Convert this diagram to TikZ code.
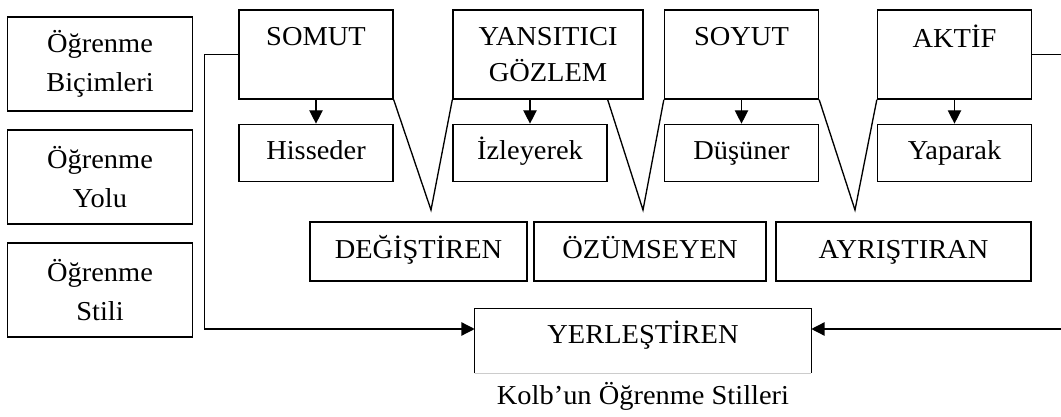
\documentclass[tikz,border=0pt]{standalone}
\usepackage{fontspec}
\setmainfont{Liberation Serif}[FakeStretch=1.04]
\usetikzlibrary{positioning,arrows.meta}

\begin{document}
\begin{tikzpicture}[
    x=0.75pt, y=-0.75pt,
    font=\fontsize{20.5}{27.5}\selectfont,
    box/.style={draw, line width=1pt, align=center, inner sep=0pt},
    sidebox/.style={box, minimum width=138.75pt, minimum height=70.5pt, font=\fontsize{20.5}{29}\selectfont},
    headbox/.style={box, minimum width=115.5pt, minimum height=66.75pt},
    subbox/.style={box, minimum width=115.5pt, minimum height=42.75pt, text height=14pt, text depth=4pt},
    typebox/.style={box, minimum height=44.25pt, text height=14pt, text depth=4pt},
    arr/.style={-{Triangle[length=10pt,width=10pt]}, line width=1pt},
    vee/.style={line width=1pt},
    node distance=18pt,
]
\useasboundingbox (0,0) rectangle (1061,417);

% sol sutun
\node[sidebox] (bicim) at (100,64) {Öğrenme\\Biçimleri};
\node[sidebox] (yol) at (100,177) {Öğrenme\\Yolu};
\node[sidebox] (stil) at (100,290) {Öğrenme\\Stili};

% ust sira
\node[headbox] (somut) at (316,54.5) {SOMUT\\\mbox{}};
\node[headbox, minimum width=142.5pt] (yansit) at (548,54.5) {YANSITICI\\GÖZLEM};
\node[headbox] (soyut) at (741.5,54.5) {SOYUT\\\mbox{}};
\node[headbox] (aktif) at (954.5,54.5) {AKTİF\\\mbox{}};

\node[subbox, below=of somut.south west, anchor=north west] (hisseder) {Hisseder};
\node[subbox, below=of yansit.south west, anchor=north west] (izle) {İzleyerek};
\node[subbox, below=of soyut.south west, anchor=north west] (dusun) {Düşüner};
\node[subbox, below=of aktif.south west, anchor=north west] (yapar) {Yaparak};

% stiller
\node[typebox, minimum width=162.75pt] (degis) at (418.5,251.5) {DEĞİŞTİREN};
\node[typebox, minimum width=174pt] (ozum) at (650,251.5) {ÖZÜMSEYEN};
\node[typebox, minimum width=191.25pt] (ayris) at (903.5,251.5) {AYRIŞTIRAN};

\node[minimum width=252pt, minimum height=48pt, inner sep=0pt, text height=14pt, text depth=11pt] (yer) at (643,341) {YERLEŞTİREN};
\draw[line width=1pt] (yer.south west) -- (yer.north west) -- (yer.north east) -- (yer.south east);
\draw[gray!40, line width=0.6pt] (yer.south west) -- (yer.south east);

\node (baslik) at (643,396) {Kolb’un Öğrenme Stilleri};

\draw[arr] (hisseder.north |- somut.south) -- (hisseder.north);
\draw[arr] (izle.north |- yansit.south) -- (izle.north);
\draw[arr] (dusun.north |- soyut.south) -- (dusun.north);
\draw[arr] (yapar.north |- aktif.south) -- (yapar.north);

\coordinate (v1) at (431,210);
\coordinate (v2) at (643,210);
\coordinate (v3) at (855,210);
\draw[vee] (somut.south east) -- (v1) -- (yansit.south west);
\draw[vee] (izle.east |- yansit.south) -- (v2) -- (soyut.south west);
\draw[vee] (soyut.south east) -- (v3) -- (aktif.south west);

\draw[arr] (somut.west) -- ++(-34,0) |- ([yshift=9pt]yer.west);
\draw[arr] (aktif.east) -- ++(45,0) |- ([yshift=9pt]yer.east);
\end{tikzpicture}
\end{document}
